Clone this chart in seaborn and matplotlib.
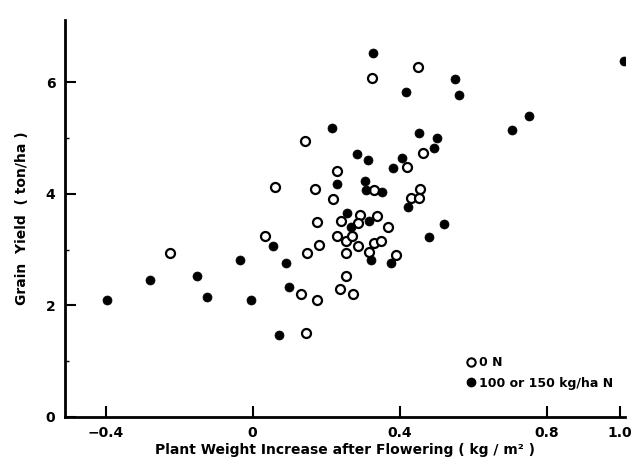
import matplotlib
matplotlib.use("Agg")
import matplotlib.pyplot as plt
import seaborn as sns
import pandas as pd
from matplotlib.lines import Line2D

# 0 N (open circles)
x_0N = [0.450, 0.326, 0.144, 0.463, 0.231, 0.420, 0.061, 0.171, 0.330, 0.455,
        0.432, 0.453, 0.220, 0.292, 0.242, 0.288, 0.338, 0.369, 0.174, 0.034,
        0.230, 0.254, 0.270, 0.182, 0.286, 0.330, 0.349, 0.149, 0.255, 0.317,
        0.390, -0.224, 0.132, 0.174, 0.254, 0.239, 0.272, 0.145]
y_0N = [6.28, 6.07, 4.95, 4.73, 4.41, 4.48, 4.12, 4.09, 4.06, 4.09,
        3.92, 3.92, 3.90, 3.62, 3.52, 3.48, 3.60, 3.41, 3.49, 3.24,
        3.25, 3.16, 3.24, 3.09, 3.06, 3.11, 3.15, 2.93, 2.94, 2.96,
        2.90, 2.93, 2.21, 2.09, 2.52, 2.29, 2.21, 1.50]

# 100 or 150 kg/ha N (filled circles)
x_N = [0.328, 0.550, 0.563, 0.417, 1.012, 0.752, 0.707, 0.217, 0.452, 0.501,
       0.495, 0.285, 0.315, 0.408, 0.382, 0.231, 0.307, 0.308, 0.351, 0.423,
       0.257, 0.318, 0.268, 0.521, 0.480, 0.055, 0.322, 0.376, -0.034, 0.091,
       -0.152, -0.280, 0.099, -0.396, -0.123, -0.005, 0.071]
y_N = [6.53, 6.06, 5.77, 5.83, 6.39, 5.40, 5.14, 5.19, 5.10, 5.01,
       4.83, 4.71, 4.61, 4.64, 4.47, 4.17, 4.23, 4.06, 4.04, 3.77,
       3.66, 3.51, 3.40, 3.46, 3.22, 3.06, 2.82, 2.76, 2.82, 2.76,
       2.52, 2.45, 2.33, 2.09, 2.14, 2.09, 1.47]

x_ticks = [-0.4, 0, 0.4, 0.8, 1.0]
x_ticklabels = ["\u22120.4", "0", "0.4", "0.8", "1.0"]
y_ticks = [0, 2, 4, 6]
y_ticklabels = ["0", "2", "4", "6"]
label_0N = "0 N"
label_N = "100 or 150 kg/ha N"

df0 = pd.DataFrame({"x": x_0N, "y": y_0N})
df1 = pd.DataFrame({"x": x_N, "y": y_N})

sns.set_style("ticks")
plt.rcParams['font.family'] = ['DejaVu Sans']
plt.rcParams['text.color'] = 'black'
plt.rcParams['axes.labelcolor'] = 'black'
plt.rcParams['xtick.color'] = 'black'
plt.rcParams['ytick.color'] = 'black'

fig = plt.figure(figsize=(6.33, 4.65), dpi=100)
ax = fig.add_axes([0.103, 0.104, 0.884, 0.853])

sns.scatterplot(data=df0, x="x", y="y", ax=ax, marker="o", s=42,
                facecolor="white", edgecolor="black", linewidth=1.6, zorder=3)
sns.scatterplot(data=df1, x="x", y="y", ax=ax, marker="o", s=42,
                color="black", edgecolor="black", linewidth=0.5, zorder=4)

ax.set_xlim(-0.51, 1.013)
ax.set_ylim(0, 7.12)
ax.set_xticks(x_ticks)
ax.set_xticklabels(x_ticklabels, fontsize=10, fontweight="bold")
ax.set_yticks(y_ticks)
ax.set_yticklabels(y_ticklabels, fontsize=10, fontweight="bold")
ax.set_yticks([1, 3, 5], minor=True)
ax.tick_params(axis="both", which="major", direction="in", length=8, width=1.5,
               color="black", pad=7, labelcolor="black")
ax.tick_params(axis="y", which="minor", direction="in", length=3, width=1.0)
for s in ["top", "right"]:
    ax.spines[s].set_visible(False)
for s in ["left", "bottom"]:
    ax.spines[s].set_linewidth(2.0)
    ax.spines[s].set_color("black")

ax.set_xlabel("Plant Weight Increase after Flowering ( kg / m\u00b2 )",
              fontsize=10, fontweight="bold", labelpad=2, color="black")
ax.set_ylabel("Grain  Yield  ( ton/ha )", fontsize=10, fontweight="bold",
              labelpad=12, color="black")

handles = [
    Line2D([], [], marker="o", linestyle="none", markersize=6,
           markerfacecolor="white", markeredgecolor="black", markeredgewidth=1.5),
    Line2D([], [], marker="o", linestyle="none", markersize=6,
           markerfacecolor="black", markeredgecolor="black"),
]
leg = ax.legend(handles, [label_0N, label_N], loc="lower right",
                bbox_to_anchor=(1.0, 0.04), frameon=False, handletextpad=0.2,
                handlelength=1.0, labelspacing=0.6,
                prop={"size": 9, "weight": "bold"})

fig.savefig("out.png", dpi=100)
